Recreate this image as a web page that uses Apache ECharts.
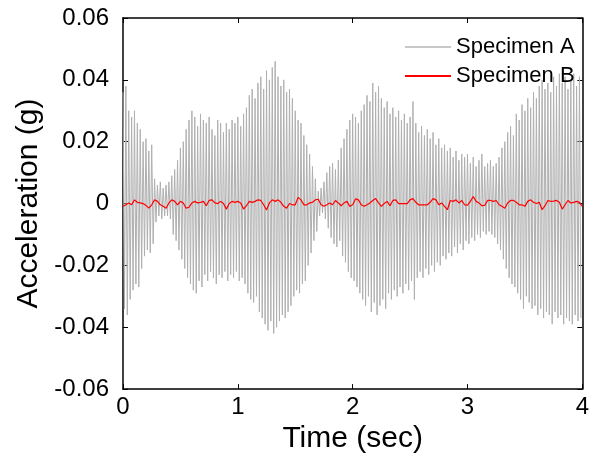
<!DOCTYPE html>
<html>
<head>
<meta charset="utf-8">
<script src="https://cdn.jsdelivr.net/npm/echarts@6/dist/echarts.min.js"></script>
<style>html,body{margin:0;padding:0;background:#fff}#c{width:592px;height:459px}</style>
</head>
<body>
<div id="c"></div>
<script>
// Specimen A: upper turning points every 0.025 s (starting t=0) and lower turning points (offset 0.0125 s)
const cycleStep = 0.025;
const specimenAUp = [
0.036,0.038,0.030,0.028,0.030,0.026,0.024,0.020,0.021,0.017,
0.019,0.008,0.006,0.007,0.005,0.006,0.007,0.009,0.011,0.014,
0.018,0.020,0.024,0.027,0.030,0.028,0.025,0.029,0.027,0.026,
0.028,0.024,0.022,0.027,0.026,0.023,0.026,0.024,0.027,0.026,
0.028,0.025,0.029,0.031,0.035,0.037,0.034,0.039,0.041,0.037,
0.043,0.040,0.044,0.046,0.041,0.038,0.040,0.036,0.037,0.034,
0.030,0.027,0.026,0.022,0.019,0.016,0.012,0.008,0.004,0.005,
0.007,0.010,0.012,0.013,0.011,0.014,0.018,0.021,0.024,0.027,
0.029,0.028,0.026,0.030,0.032,0.035,0.033,0.039,0.036,0.038,
0.034,0.031,0.033,0.029,0.031,0.028,0.030,0.027,0.029,0.026,
0.028,0.033,0.026,0.023,0.025,0.022,0.024,0.021,0.023,0.019,
0.021,0.018,0.019,0.017,0.018,0.015,0.017,0.014,0.016,0.015,
0.016,0.013,0.015,0.012,0.014,0.016,0.012,0.013,0.014,0.012,
0.013,0.015,0.018,0.020,0.023,0.025,0.022,0.029,0.027,0.032,
0.030,0.034,0.031,0.036,0.034,0.038,0.040,0.037,0.039,0.036,
0.041,0.038,0.042,0.039,0.041,0.037,0.040,0.042,0.038,0.041
];
const specimenALow = [
-0.034,-0.036,-0.031,-0.028,-0.026,-0.027,-0.021,-0.017,-0.015,-0.016,
-0.013,-0.006,-0.004,-0.005,-0.004,-0.004,-0.005,-0.010,-0.012,-0.015,
-0.018,-0.021,-0.024,-0.026,-0.028,-0.029,-0.025,-0.027,-0.023,-0.025,
-0.022,-0.024,-0.026,-0.023,-0.024,-0.022,-0.025,-0.023,-0.024,-0.022,
-0.025,-0.024,-0.026,-0.029,-0.031,-0.032,-0.030,-0.035,-0.037,-0.039,
-0.041,-0.038,-0.042,-0.040,-0.038,-0.036,-0.037,-0.035,-0.033,-0.030,
-0.028,-0.029,-0.026,-0.025,-0.020,-0.016,-0.012,-0.009,-0.004,-0.003,
-0.005,-0.008,-0.011,-0.013,-0.014,-0.012,-0.017,-0.019,-0.022,-0.024,
-0.025,-0.027,-0.029,-0.031,-0.033,-0.030,-0.035,-0.032,-0.036,-0.033,
-0.031,-0.034,-0.029,-0.031,-0.028,-0.030,-0.027,-0.029,-0.026,-0.028,
-0.025,-0.031,-0.024,-0.022,-0.024,-0.021,-0.023,-0.020,-0.022,-0.019,
-0.020,-0.017,-0.018,-0.016,-0.017,-0.014,-0.016,-0.013,-0.015,-0.012,
-0.013,-0.011,-0.012,-0.010,-0.011,-0.009,-0.010,-0.009,-0.010,-0.011,
-0.013,-0.015,-0.018,-0.021,-0.024,-0.026,-0.027,-0.029,-0.031,-0.034,
-0.030,-0.032,-0.034,-0.033,-0.036,-0.034,-0.037,-0.035,-0.036,-0.039,
-0.035,-0.037,-0.036,-0.039,-0.037,-0.038,-0.039,-0.036,-0.038,-0.037
];
// Specimen B: samples every 0.025 s from t=0 to t=4
const specimenBStep = 0.025;
const specimenB = [
-0.0009,-0.0004,0.0002,-0.0004,0.0012,0.0004,0.0002,0.0000,-0.0006,-0.0015,
-0.0004,0.0012,0.0007,-0.0004,-0.0009,-0.0015,0.0002,0.0012,0.0007,-0.0004,
0.0007,0.0002,-0.0015,-0.0012,0.0002,0.0007,0.0002,0.0004,0.0007,-0.0007,
0.0010,0.0012,0.0002,0.0000,0.0007,0.0000,-0.0018,0.0000,0.0007,0.0004,
0.0007,0.0002,-0.0018,-0.0007,0.0007,0.0004,0.0007,0.0012,0.0010,-0.0004,
-0.0021,0.0002,0.0012,0.0007,0.0012,0.0004,-0.0009,-0.0015,0.0000,-0.0004,
-0.0004,0.0020,0.0012,-0.0004,-0.0004,0.0002,0.0004,0.0012,0.0014,-0.0004,
-0.0009,-0.0004,0.0002,-0.0004,0.0010,0.0002,-0.0007,0.0002,0.0007,-0.0009,
-0.0004,0.0015,0.0012,-0.0004,-0.0009,-0.0004,0.0002,0.0010,0.0016,0.0002,
-0.0009,0.0000,0.0007,-0.0007,0.0010,0.0012,0.0000,0.0000,0.0000,0.0000,
0.0012,0.0016,0.0004,-0.0004,-0.0004,-0.0004,-0.0004,0.0004,0.0016,0.0012,
-0.0004,0.0002,-0.0009,-0.0020,0.0010,0.0007,0.0012,0.0002,0.0010,-0.0004,
-0.0005,0.0007,0.0023,0.0007,0.0002,-0.0007,-0.0006,0.0010,0.0010,0.0007,
0.0010,-0.0004,-0.0009,-0.0015,0.0002,0.0010,0.0010,0.0004,-0.0004,-0.0004,
-0.0009,0.0007,0.0012,0.0004,0.0000,0.0004,-0.0020,-0.0007,0.0010,0.0007,
0.0008,0.0010,0.0004,-0.0018,-0.0004,0.0010,0.0002,0.0004,0.0007,0.0004,
-0.0009
];
const xTicks = [0,1,2,3,4];
const yTicks = [-0.06,-0.04,-0.02,0,0.02,0.04,0.06];

const dataA = [];
for (let k = 0; k < specimenAUp.length; k++) {
  dataA.push([k*cycleStep, specimenAUp[k]]);
  dataA.push([k*cycleStep + cycleStep/2, specimenALow[k]]);
}
const dataB = specimenB.map((v,i)=>[i*specimenBStep, v]);

const FONT = 'Liberation Sans, Arial, sans-serif';
const chart = echarts.init(document.getElementById('c'), null, {renderer:'canvas'});
const tickCommon = {show:true, inside:true, length:5, lineStyle:{color:'#000', width:1}};
chart.setOption({
  animation:false,
  backgroundColor:'#fff',
  grid:{left:123, top:18, right:5, bottom:67, containLabel:false},
  legend:{
    left:400, top:30, orient:'vertical', itemWidth:46, itemHeight:2, itemGap:5,
    icon:'rect',
    textStyle:{fontFamily:FONT, fontSize:22, color:'#000', lineHeight:24},
    data:[{name:'Specimen A'},{name:'Specimen B'}]
  },
  xAxis:[{
    type:'value', min:0, max:4, interval:1,
    name:'Time (sec)', nameLocation:'middle', nameGap:31,
    nameTextStyle:{fontFamily:FONT, fontSize:30, color:'#000'},
    axisLine:{show:true, onZero:false, lineStyle:{color:'#000', width:1.5}},
    axisTick:tickCommon,
    axisLabel:{fontFamily:FONT, fontSize:24, color:'#000', margin:6},
    splitLine:{show:false}
  },{
    type:'value', min:0, max:4, interval:1, position:'top',
    axisLine:{show:true, onZero:false, lineStyle:{color:'#000', width:1.5}},
    axisTick:tickCommon, axisLabel:{show:false}, splitLine:{show:false}
  }],
  yAxis:[{
    type:'value', min:-0.06, max:0.06, interval:0.02,
    name:'Acceleration (g)', nameLocation:'middle', nameGap:78, nameRotate:90,
    nameTextStyle:{fontFamily:FONT, fontSize:30, color:'#000'},
    axisLine:{show:true, onZero:false, lineStyle:{color:'#000', width:1.5}},
    axisTick:tickCommon,
    axisLabel:{fontFamily:FONT, fontSize:24, color:'#000', margin:14,
      formatter:v=>Math.abs(v)<1e-9?'0':v.toFixed(2)},
    splitLine:{show:false}
  },{
    type:'value', min:-0.06, max:0.06, interval:0.02, position:'right',
    axisLine:{show:true, onZero:false, lineStyle:{color:'#000', width:1.5}},
    axisTick:tickCommon, axisLabel:{show:false}, splitLine:{show:false}
  }],
  series:[{
    name:'Specimen A', type:'line', data:dataA, symbol:'none', showSymbol:false,
    sampling:null, xAxisIndex:0, yAxisIndex:0,
    lineStyle:{color:'#b0b0b0', width:1}, itemStyle:{color:'#c8c8c8'}
  },{
    name:'Specimen B', type:'line', data:dataB, symbol:'none', showSymbol:false,
    xAxisIndex:0, yAxisIndex:0,
    lineStyle:{color:'#ff0000', width:1.2}, itemStyle:{color:'#ff0000'}
  }]
});
</script>
</body>
</html>
